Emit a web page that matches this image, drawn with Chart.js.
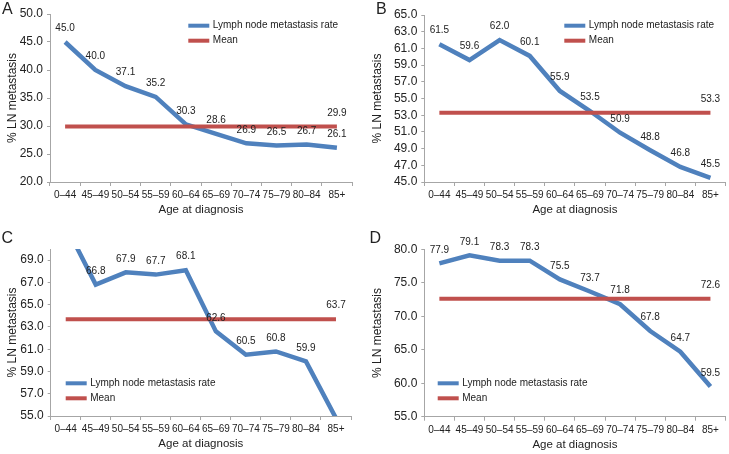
<!DOCTYPE html>
<html>
<head>
<meta charset="utf-8">
<script src="https://cdn.jsdelivr.net/npm/chart.js@4.4.1/dist/chart.umd.min.js"></script>
<style>
  html, body { margin: 0; padding: 0; background: #fff; overflow: hidden; }
  #fig { position: relative; width: 729px; height: 454px; }
  canvas { position: absolute; }
</style>
</head>
<body>
<div id="fig">
  <canvas id="panelA" width="364" height="227" style="left:0;top:0"></canvas>
  <canvas id="panelB" width="364" height="227" style="left:365px;top:0"></canvas>
  <canvas id="panelC" width="364" height="227" style="left:0;top:227px"></canvas>
  <canvas id="panelD" width="364" height="227" style="left:365px;top:227px"></canvas>
</div>
<script>
// categorias de edad (eje x)
const ageGroups = ['0–44', '45–49', '50–54', '55–59', '60–64', '65–69', '70–74', '75–79', '80–84', '85+'];

// A
const rateA = [45.0, 40.0, 37.1, 35.2, 30.3, 28.6, 26.9, 26.5, 26.7, 26.1];
const meanA = [29.9, 29.9, 29.9, 29.9, 29.9, 29.9, 29.9, 29.9, 29.9, 29.9];
const yTicksA = [20, 25, 30, 35, 40, 45, 50];
const yRangeA = [20, 50];

// B
const rateB = [61.5, 59.6, 62.0, 60.1, 55.9, 53.5, 50.9, 48.8, 46.8, 45.5];
const meanB = [53.3, 53.3, 53.3, 53.3, 53.3, 53.3, 53.3, 53.3, 53.3, 53.3];
const yTicksB = [45, 47, 49, 51, 53, 55, 57, 59, 61, 63, 65];
const yRangeB = [45, 65];

// C (primer y ultimo valor quedan fuera del eje, estimados)
const rateC = [72.1, 66.8, 67.9, 67.7, 68.1, 62.6, 60.5, 60.8, 59.9, 54.8];
const meanC = [63.7, 63.7, 63.7, 63.7, 63.7, 63.7, 63.7, 63.7, 63.7, 63.7];
const yTicksC = [55, 57, 59, 61, 63, 65, 67, 69];
const yRangeC = [55, 70];

// D
const rateD = [77.9, 79.1, 78.3, 78.3, 75.5, 73.7, 71.8, 67.8, 64.7, 59.5];
const meanD = [72.6, 72.6, 72.6, 72.6, 72.6, 72.6, 72.6, 72.6, 72.6, 72.6];
const yTicksD = [55, 60, 65, 70, 75, 80];
const yRangeD = [55, 80];

const FONT = '"Liberation Sans", Arial, Helvetica, sans-serif';
const TEXT = '#222';
const AXIS = '#a6a6a6';
Chart.defaults.font.family = FONT;
Chart.defaults.color = TEXT;

// etiquetas de datos, leyenda y letra del panel
const panelDecor = {
  id: 'panelDecor',
  afterDatasetsDraw(chart, args, opts) {
    const ctx = chart.ctx;
    const y = chart.scales.y;
    ctx.save();
    ctx.font = '10px ' + FONT;
    ctx.fillStyle = TEXT;
    ctx.textAlign = 'center';
    ctx.textBaseline = 'middle';
    chart.data.datasets.forEach((ds, i) => {
      const meta = chart.getDatasetMeta(i);
      meta.data.forEach((pt, j) => {
        if (ds.labelLastOnly && j !== ds.data.length - 1) return;
        const v = ds.data[j];
        if (v < y.min || v > y.max) return;
        ctx.fillText(v.toFixed(1), pt.x, pt.y - 13.5);
      });
    });

    // leyenda
    chart.data.datasets.forEach((ds, i) => {
      const ly = opts.legendY + i * 15;
      ctx.strokeStyle = ds.borderColor;
      ctx.lineWidth = 4;
      ctx.beginPath();
      ctx.moveTo(opts.legendX, ly);
      ctx.lineTo(opts.legendX + 21, ly);
      ctx.stroke();
      ctx.textAlign = 'left';
      ctx.fillText(ds.label, opts.legendX + 24.5, ly);
    });

    ctx.font = '16px ' + FONT;
    ctx.textBaseline = 'alphabetic';
    ctx.fillText(opts.letter, opts.letterX, opts.letterY);
    ctx.restore();
  }
};

function makePanel(id, rate, mean, yTicks, yRange, area, decor) {
  const H = 227, W = 364;
  const xTitleLine = 11.5 * 1.2;
  new Chart(document.getElementById(id), {
    type: 'line',
    data: {
      labels: ageGroups,
      datasets: [
        {
          label: 'Lymph node metastasis rate',
          data: rate,
          borderColor: '#4f81bd',
          borderWidth: 4.5,
          pointRadius: 0,
          tension: 0,
          clip: 0,
          order: 1
        },
        {
          label: 'Mean',
          data: mean,
          borderColor: '#c0504d',
          borderWidth: 4,
          pointRadius: 0,
          tension: 0,
          clip: 0,
          order: 0,
          labelLastOnly: true
        }
      ]
    },
    options: {
      responsive: false,
      animation: false,
      devicePixelRatio: 1,
      layout: { padding: { left: 0, top: area.top, right: W - area.right, bottom: 0 } },
      plugins: {
        legend: { display: false },
        tooltip: { enabled: false },
        panelDecor: decor
      },
      scales: {
        x: {
          type: 'category',
          offset: true,
          grid: { offset: true, drawOnChartArea: false, drawTicks: true, tickLength: 4, color: AXIS },
          border: { display: true, color: AXIS },
          ticks: { autoSkip: false, maxRotation: 0, padding: 3.5, font: { size: 10 }, color: TEXT },
          title: {
            display: true,
            text: 'Age at diagnosis',
            font: { size: 11.5 },
            color: TEXT,
            padding: { top: 0, bottom: (H - area.bottom) - 28 - xTitleLine / 2 }
          },
          afterFit(scale) { scale.height = H - area.bottom; }
        },
        y: {
          type: 'linear',
          min: yRange[0],
          max: yRange[1],
          grid: { drawOnChartArea: false, drawTicks: true, tickLength: 3, color: AXIS },
          border: { display: true, color: AXIS },
          ticks: {
            autoSkip: false,
            padding: 4,
            font: { size: 12 },
            color: TEXT,
            callback: v => Number(v).toFixed(1)
          },
          afterBuildTicks(scale) { scale.ticks = yTicks.map(v => ({ value: v })); },
          title: {
            display: true,
            text: '% LN metastasis',
            font: { size: 12 },
            color: TEXT,
            padding: { top: 5.5, bottom: 0 }
          },
          afterFit(scale) { scale.width = area.left; }
        }
      }
    },
    plugins: [panelDecor]
  });
}

makePanel('panelA', rateA, meanA, yTicksA, yRangeA,
  { left: 50, top: 14, right: 352, bottom: 182 },
  { letter: 'A', letterX: 2, letterY: 14, legendX: 188.3, legendY: 25.7 });

makePanel('panelB', rateB, meanB, yTicksB, yRangeB,
  { left: 59.3, top: 15, right: 360.5, bottom: 182 },
  { letter: 'B', letterX: 11, letterY: 13.5, legendX: 199.3, legendY: 25.7 });

makePanel('panelC', rateC, meanC, yTicksC, yRangeC,
  { left: 50.7, top: 22, right: 351, bottom: 189 },
  { letter: 'C', letterX: 1.5, letterY: 16, legendX: 65.7, legendY: 156.3 });

makePanel('panelD', rateD, meanD, yTicksD, yRangeD,
  { left: 59.3, top: 22.3, right: 360.5, bottom: 189.7 },
  { letter: 'D', letterX: 4.5, letterY: 16, legendX: 72.7, legendY: 156.3 });
</script>
</body>
</html>
